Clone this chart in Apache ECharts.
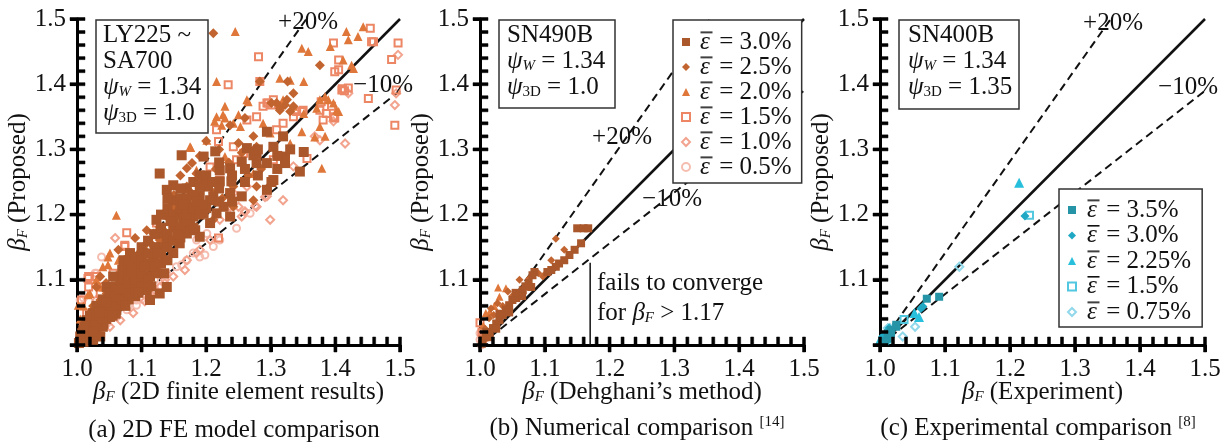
<!DOCTYPE html>
<html><head><meta charset="utf-8">
<script src="https://cdn.jsdelivr.net/npm/echarts@6/dist/echarts.min.js"></script>
<style>html,body{margin:0;padding:0;background:#fff;overflow:hidden}#c{width:1226px;height:442px}#m{position:absolute;left:-5000px;top:0;width:1226px;height:442px}</style>
</head><body><div id="c"></div><div id="m"></div>
<script>
// ---------- data ----------
// (a) 2D FE model comparison : [beta_F FE, beta_F proposed]
const fe30 = [[1.128,1.263],[1.162,1.291],[1.196,1.289],[1.214,1.297],[1.237,1.271],[1.221,1.268],[1.221,1.251],[1.203,1.243],[1.211,1.228],[1.239,1.251],[1.237,1.233],[1.278,1.294],[1.304,1.304],[1.278,1.279],[1.294,1.279],[1.304,1.253],[1.322,1.279],[1.322,1.289],[1.345,1.266],[1.351,1.296],[1.319,1.32],[1.294,1.327],[1.294,1.238],[1.273,1.291],[1.263,1.302],[1.149,1.245],[1.139,1.238],[1.149,1.222],[1.159,1.202],[1.149,1.181],[1.170,1.212],[1.180,1.197],[1.183,1.176],[1.190,1.166],[1.170,1.171],[1.159,1.156],[1.149,1.141],[1.139,1.161],[1.128,1.171],[1.123,1.192],[1.196,1.202],[1.206,1.222],[1.216,1.202],[1.227,1.212],[1.237,1.197],[1.206,1.187],[1.103,1.141],[1.108,1.120],[1.092,1.125],[1.087,1.105],[1.077,1.120],[1.067,1.095],[1.098,1.095],[1.113,1.105],[1.108,1.084],[1.087,1.079],[1.067,1.079],[1.051,1.069],[1.036,1.059],[1.025,1.049],[1.015,1.038],[1.010,1.023],[1.005,1.013],[1.046,1.089],[1.056,1.105],[1.072,1.130],[1.082,1.141],[1.020,1.018],[1.030,1.023],[1.041,1.033],[1.051,1.043],[1.061,1.054],[1.072,1.064],[1.036,1.013],[1.015,1.008],[1.025,1.008],[1.113,1.069],[1.128,1.079],[1.139,1.089],[1.123,1.110],[1.301,1.25],[1.255,1.228],[1.255,1.281],[1.276,1.296],[1.045,1.04],[1.055,1.062],[1.065,1.07],[1.075,1.085],[1.085,1.09],[1.095,1.11],[1.1,1.1],[1.09,1.075],[1.08,1.07],[1.06,1.048],[1.04,1.028],[1.03,1.035],[1.02,1.03],[1.01,1.005],[1.003,1.003],[1.008,1.018],[1.118,1.13],[1.13,1.15],[1.14,1.2],[1.16,1.225],[1.17,1.24],[1.18,1.25],[1.19,1.23],[1.175,1.185],[1.165,1.19],
  [1.01,1.01],[1.01,1.02],[1.02,1.02],[1.02,1.035],[1.02,1.045],[1.03,1.03],[1.03,1.045],[1.03,1.06],[1.04,1.04],[1.04,1.055],[1.04,1.07],[1.05,1.05],[1.05,1.06],[1.05,1.08],[1.06,1.06],[1.06,1.075],[1.06,1.09],[1.07,1.07],[1.07,1.1],[1.07,1.115],[1.08,1.08],[1.08,1.095],[1.08,1.11],[1.08,1.13],[1.09,1.085],[1.09,1.1],[1.09,1.115],[1.09,1.135],[1.1,1.09],[1.1,1.11],[1.1,1.13],[1.1,1.15],[1.11,1.1],[1.11,1.125],[1.11,1.14],[1.11,1.16],[1.12,1.12],[1.12,1.15],[1.12,1.17],[1.13,1.125],[1.13,1.14],[1.13,1.18],[1.13,1.2],[1.14,1.13],[1.14,1.15],[1.14,1.17],[1.14,1.21],[1.14,1.225],[1.15,1.16],[1.15,1.19],[1.15,1.2],[1.16,1.165],[1.16,1.18],[1.16,1.21],[1.16,1.24],[1.17,1.19],[1.17,1.2],[1.17,1.225],[1.18,1.18],[1.18,1.21],[1.18,1.23],[1.19,1.2],[1.19,1.245],[1.19,1.26],[1.2,1.21],[1.2,1.25],[1.2,1.26],[1.22,1.22],[1.22,1.24],[1.22,1.28],[1.24,1.22],[1.24,1.26],[1.26,1.25],[1.26,1.27],[1.28,1.26],[1.28,1.3],[1.31,1.27],[1.31,1.29],[1.33,1.3],
  [1.005,1.005],[1.012,1.028],[1.025,1.02],[1.035,1.05],[1.045,1.065],[1.055,1.045],[1.065,1.085],[1.075,1.06],[1.085,1.115],[1.095,1.08],[1.105,1.12],[1.115,1.09],[1.125,1.14],[1.135,1.11],[1.145,1.19],[1.155,1.17],[1.165,1.215],[1.185,1.22],[1.195,1.215],[1.21,1.25]];
const fe25 = [[1.211,1.478],[1.376,1.429],[1.335,1.386],[1.326,1.404],[1.314,1.36],[1.309,1.371],[1.335,1.366],[1.325,1.376],[1.260,1.348],[1.237,1.337],[1.273,1.320],[1.278,1.304],[1.178,1.279],[1.185,1.263],[1.170,1.271],[1.139,1.197],[1.128,1.181],[1.118,1.171],[1.108,1.176],[1.090,1.164],[1.064,1.146],[1.030,1.089],[1.036,1.105],[1.278,1.243],[1.294,1.240],[1.242,1.243],[1.211,1.233],[1.170,1.243],[1.190,1.222],[1.149,1.212],[1.128,1.161],[1.103,1.151],[1.082,1.120],[1.061,1.105],[1.046,1.079],[1.036,1.069],[1.020,1.049],[1.010,1.033],[1.242,1.212],[1.273,1.222],[1.211,1.192],[1.2,1.313],[1.283,1.404],[1.301,1.371],[1.322,1.368],[1.33,1.358],[1.314,1.363],[1.22,1.3],[1.25,1.31],[1.19,1.29],[1.16,1.26],[1.15,1.23],[1.07,1.09],[1.055,1.075],[1.09,1.1],[1.1,1.125],[1.12,1.14],[1.03,1.05],[1.015,1.025],[1.005,1.012],[1.025,1.06],[1.045,1.095],[1.075,1.13],[1.095,1.14],[1.115,1.155],[1.135,1.175],[1.155,1.215],[1.175,1.235],[1.195,1.25],[1.215,1.27],[1.235,1.28],[1.255,1.295],[1.265,1.26],[1.285,1.27],[1.225,1.225],[1.185,1.205],[1.165,1.18]];
const fe20 = [[1.245,1.481],[1.417,1.481],[1.443,1.488],[1.435,1.473],[1.420,1.468],[1.348,1.455],[1.358,1.450],[1.392,1.458],[1.412,1.437],[1.425,1.429],[1.216,1.404],[1.314,1.409],[1.330,1.406],[1.351,1.404],[1.263,1.376],[1.229,1.366],[1.216,1.350],[1.229,1.348],[1.213,1.343],[1.253,1.335],[1.242,1.340],[1.288,1.340],[1.319,1.376],[1.335,1.366],[1.351,1.355],[1.376,1.376],[1.397,1.371],[1.402,1.360],[1.376,1.335],[1.384,1.320],[1.330,1.309],[1.379,1.271],[1.299,1.325],[1.175,1.304],[1.061,1.199],[1.051,1.141],[1.020,1.079],[1.036,1.089],[1.201,1.314],[1.185,1.268],[1.273,1.263],[1.229,1.289],[1.265,1.373],[1.384,1.381],[1.389,1.376],[1.371,1.363],[1.428,1.424],[1.226,1.353],[1.25,1.353],[1.224,1.337],[1.176,1.303],[1.405,1.358],[1.348,1.327],[1.368,1.319],[1.04,1.12],[1.03,1.1],[1.01,1.06],[1.005,1.04],[1.048,1.135],[1.048,1.123],[1.064,1.130],[1.017,1.077],[1.002,1.061]];
const fe15 = [[1.281,1.442],[1.234,1.399],[1.397,1.463],[1.405,1.437],[1.405,1.422],[1.399,1.419],[1.454,1.486],[1.459,1.465],[1.497,1.463],[1.487,1.438],[1.451,1.378],[1.492,1.337],[1.410,1.391],[1.420,1.394],[1.283,1.404],[1.294,1.371],[1.304,1.376],[1.288,1.366],[1.278,1.350],[1.263,1.345],[1.216,1.330],[1.219,1.312],[1.206,1.273],[1.219,1.164],[1.123,1.187],[1.074,1.151],[1.030,1.105],[1.018,1.089],[1.018,1.105],[1.007,1.069],[1.356,1.286],[1.376,1.360],[1.386,1.355],[1.397,1.350],[1.335,1.350],[1.350,1.360],[1.309,1.330],[1.319,1.340],[1.247,1.284],[1.258,1.294],[1.190,1.258],[1.170,1.222],[1.154,1.202],[1.242,1.304],[1.087,1.125],[1.056,1.110],[1.041,1.089],[1.036,1.079],[1.015,1.049],[1.010,1.033],[1.020,1.038],[1.304,1.284],[1.221,1.253],[1.296,1.371],[1.301,1.368],[1.378,1.373],[1.394,1.366],[1.399,1.348],[1.381,1.345],[1.348,1.358],[1.34,1.358],[1.494,1.391],[1.411,1.393],[1.414,1.39],[1.456,1.465],[1.077,1.172],[1.074,1.153],[1.017,1.102]];
const fe10 = [[1.497,1.445],[1.494,1.386],[1.492,1.368],[1.420,1.386],[1.397,1.343],[1.368,1.320],[1.415,1.309],[1.319,1.222],[1.299,1.192],[1.294,1.228],[1.278,1.212],[1.260,1.205],[1.250,1.212],[1.242,1.233],[1.263,1.243],[1.221,1.192],[1.237,1.212],[1.185,1.141],[1.167,1.115],[1.136,1.095],[1.105,1.067],[1.059,1.164],[1.030,1.069],[1.087,1.049],[1.067,1.038],[1.051,1.028],[1.036,1.018],[1.113,1.079],[1.128,1.089],[1.149,1.105],[1.170,1.130],[1.190,1.146],[1.206,1.161],[1.335,1.274],[1.376,1.314],[1.291,1.227],[1.276,1.213],[1.26,1.204],[1.255,1.197],[1.02,1.012],[1.01,1.008],[1.04,1.05],[1.025,1.04],[1.136,1.1]];
const fe05 = [[1.247,1.179],[1.198,1.138],[1.190,1.135],[1.162,1.123],[1.118,1.082],[1.092,1.069],[1.077,1.054],[1.061,1.043],[1.046,1.033],[1.036,1.026],[1.025,1.018],[1.015,1.013],[1.007,1.008],[1.038,1.135],[1.030,1.110],[1.010,1.072],[1.139,1.110],[1.154,1.120],[1.170,1.130],[1.180,1.141],[1.108,1.095],[1.098,1.084],[1.221,1.161],[1.211,1.151],[1.268,1.202],[1.139,1.130],[1.087,1.089],[1.067,1.069],[1.056,1.059],[1.020,1.028],[1.201,1.171],[1.185,1.161],[1.13,1.09],[1.12,1.1],[1.1,1.07],[1.08,1.06],[1.05,1.04],[1.04,1.03],[1.003,1.002],[1.012,1.005],[1.121,1.084],[1.092,1.061],[1.028,1.11],[1.005,1.069]];
// (b) Numerical comparison : [beta_F Dehghani, beta_F proposed]
const dg30 = [[1.150,1.179],[1.160,1.179],[1.167,1.179],[1.156,1.156],[1.146,1.146],[1.138,1.138],[1.130,1.130],[1.122,1.125],[1.117,1.120],[1.110,1.115],[1.104,1.112],[1.084,1.112],[1.081,1.107],[1.079,1.089],[1.066,1.084],[1.061,1.079],[1.056,1.072],[1.050,1.069],[1.045,1.061],[1.040,1.054],[1.035,1.046],[1.030,1.038],[1.025,1.033],[1.020,1.026],[1.014,1.018],[1.009,1.013],[1.004,1.008],[1.07,1.09],[1.065,1.075],[1.045,1.05],[1.025,1.025],[1.015,1.012],[1.003,1.002],[1.01,1.02],[1.03,1.048],[1.055,1.08],[1.075,1.095]];
const dg25 = [[1.117,1.163],[1.061,1.100],[1.076,1.102],[1.043,1.082],[1.027,1.064],[1.017,1.056],[1.097,1.105],[1.102,1.110],[1.130,1.146],[1.110,1.130],[1.014,1.041],[1.021,1.046],[1.05,1.075],[1.035,1.06],[1.09,1.11],[1.008,1.025]];
const dg20 = [[1.028,1.088],[1.040,1.087],[1.030,1.074],[1.015,1.051],[1.009,1.049],[1.022,1.06],[1.005,1.03]];
const dg15 = [[1.0,1.034],[1.003,1.02],[1.006,1.012]];
const dg10 = [[1.007,1.010],[1.004,1.015]];
const dg05 = [[1.0,1.008],[1.004,1.003],[1.0,1.018],[1.002,1.0]];
// (c) Experimental comparison : [beta_F experiment, beta_F proposed]
const ex35 = [[1.091,1.074],[1.072,1.071],[1.025,1.028],[1.017,1.018],[1.012,1.010],[1.012,1.018],[1.017,1.023],[1.025,1.031],[1.008,1.006]];
const ex30 = [[1.223,1.198],[1.066,1.059],[1.014,1.026],[1.004,1.013],[1.063,1.056]];
const ex225 = [[1.214,1.249],[1.060,1.043],[1.053,1.049],[1.004,1.013],[1.007,1.015],[1.0,1.008],[1.01,1.01]];
const ex15 = [[1.230,1.199],[1.037,1.039]];
const ex075 = [[1.122,1.120],[1.054,1.028],[1.035,1.013],[1.012,1.026],[1.015,1.026]];
// guide lines
const lineEqual = [[1.0,1.0],[1.5,1.5]];
const linePlus20 = [[1.0,1.0],[1.355,1.5]];
const lineMinus10 = [[1.0,1.0],[1.5,1.39]];
const lineConverge = [[1.17,1.0],[1.17,1.126]];
// legend labels and ticks
const labelsAB = ['3.0%','2.5%','2.0%','1.5%','1.0%','0.5%'];
const labelsC = ['3.5%','3.0%','2.25%','1.5%','0.75%'];
const majorTicks = [1.0,1.1,1.2,1.3,1.4,1.5];
const minorTicks = [1.02,1.04,1.06,1.08,1.12,1.14,1.16,1.18,1.22,1.24,1.26,1.28,1.32,1.34,1.36,1.38,1.42,1.44,1.46,1.48];

// ---------- styles ----------
const F = '"Liberation Serif","Times New Roman",serif';
const INK = '#111';
const colAB = ['#a9572b','#c2642f','#e0773a','#ec8664','#f2a48f','#f5bdb0'];
const colC = ['#2494a6','#1fa8c4','#27bfdc','#52c8e0','#90d8ea'];

const ovl = document.createElement('canvas');
ovl.width = 13; ovl.height = 25;
(function(){const g = ovl.getContext('2d'); g.fillStyle = INK; g.fillRect(0.5, 2, 12, 1.6);})();

function richC(){return {
  n:{fontFamily:F,fontSize:25,color:INK,lineHeight:26},
  i:{fontFamily:F,fontSize:25,fontStyle:'italic',color:INK,lineHeight:26},
  si:{fontFamily:F,fontSize:15,fontStyle:'italic',color:INK,lineHeight:10,verticalAlign:'bottom'}
};}
function richG(){return {
  n:{fontFamily:F,fontSize:25,fill:INK,lineHeight:26},
  i:{fontFamily:F,fontSize:25,fontStyle:'italic',fill:INK,lineHeight:26},
  si:{fontFamily:F,fontSize:15,fontStyle:'italic',fill:INK,lineHeight:10,verticalAlign:'bottom'},
  sn:{fontFamily:F,fontSize:15,fill:INK,lineHeight:10,verticalAlign:'bottom'},
  sup:{fontFamily:F,fontSize:15,fill:INK,lineHeight:12,verticalAlign:'top'}
};}

const grids = [
  {left:77, top:19, width:323, height:326},
  {left:480, top:19, width:324, height:326},
  {left:880, top:19, width:325, height:326}
];
const xNames = ['{i|β}{si|F}{n| (2D finite element results)}','{i|β}{si|F}{n| (Dehghani’s method)}','{i|β}{si|F}{n| (Experiment)}'];
const shapes = [
  {symbol:'rect',hollow:false},{symbol:'diamond',hollow:false},{symbol:'triangle',hollow:false},
  {symbol:'rect',hollow:true},{symbol:'diamond',hollow:true},{symbol:'circle',hollow:true}
];
const abNames = labelsAB.map((_,j)=>'ab'+j);
const cNames = labelsC.map((_,j)=>'c'+j);
const aData = [fe30,fe25,fe20,fe15,fe10,fe05];
const bData = [dg30,dg25,dg20,dg15,dg10,dg05];
const cData = [ex35,ex30,ex225,ex15,ex075];
const aSize = [10,10,9,7,8,7];
const bSize = [8,8,8,7,8,7];
const cSize = [8,9,10,7,8];

function scat(name,data,k,shape,color,size,z){
  return {type:'scatter',name,data,xAxisIndex:k,yAxisIndex:k,symbol:shape.symbol,symbolSize:size,z,
    itemStyle: shape.hollow?{color:'rgba(255,255,255,0)',borderColor:color,borderWidth:2,opacity:1}:{color:color,opacity:1},
    emphasis:{disabled:true},silent:true,animation:false};
}
function line(data,k,dashed,width){
  return {type:'line',data,xAxisIndex:k,yAxisIndex:k,showSymbol:false,symbol:'none',z:1,silent:true,animation:false,
    lineStyle:{color:'#111',width:width,type:dashed?[8,5]:'solid'}};
}
function legendRich(){return {
  e:{fontFamily:F,fontSize:25,fontStyle:'italic',color:INK,lineHeight:25,width:13,height:25,backgroundColor:{image:ovl}},
  t:{fontFamily:F,fontSize:25,color:INK,lineHeight:25}
};}
function legendFmt(name){
  const isAB = name.startsWith('ab');
  const j = +name.slice(isAB?2:1);
  const lab = isAB?labelsAB[j]:labelsC[j];
  return '{e|ε}{t| = '+lab+'}';
}
function txt(x,y,text,align,va){
  return {type:'text',x,y,z:100,silent:true,style:{text,align:align||'left',verticalAlign:va||'top',textAlign:align||'left',textVerticalAlign:va||'top',font:'25px '+F,fill:INK,rich:richG()}};
}
function box(x,y,w,h){
  return {type:'rect',z:99,silent:true,shape:{x,y,width:w,height:h},style:{fill:'#fff',stroke:'#333',lineWidth:1.5}};
}

function buildOption(tickEls){
  const xAxis = [], yAxis = [];
  grids.forEach((g,k)=>{
    xAxis.push({gridIndex:k,type:'value',min:1,max:1.5,interval:0.1,position:'bottom',
      axisLine:{show:true,onZero:false,lineStyle:{color:'#000',width:3}},
      axisTick:{show:true,inside:false,length:7,lineStyle:{color:'#000',width:3}},
      axisLabel:{fontFamily:F,fontSize:25,color:INK,margin:12,formatter:v=>v.toFixed(1)},
      splitLine:{show:false},
      name:xNames[k],nameLocation:'middle',nameGap:34,nameMoveOverlap:false,
      nameTextStyle:{fontFamily:F,fontSize:25,color:INK,rich:richC()}});
    yAxis.push({gridIndex:k,type:'value',min:1,max:1.5,interval:0.1,position:'left',
      axisLine:{show:true,onZero:false,lineStyle:{color:'#000',width:3}},
      axisTick:{show:true,inside:false,length:7,lineStyle:{color:'#000',width:3}},
      axisLabel:{fontFamily:F,fontSize:25,color:INK,margin:11,formatter:v=>v<1.05?'':v.toFixed(1)},
      splitLine:{show:false},
      name:'{i|β}{si|F}{n| (Proposed)}',nameLocation:'middle',nameGap:46,nameRotate:90,nameMoveOverlap:false,
      nameTextStyle:{fontFamily:F,fontSize:25,color:INK,rich:richC()}});
  });
  const series = [];
  [0,1,2].forEach(k=>{
    series.push(line(lineEqual,k,false,2.5));
    series.push(line(linePlus20,k,true,2));
    series.push(line(lineMinus10,k,true,2));
  });
  series.push(line(lineConverge,1,false,1.5));
  aData.forEach((d,j)=>series.push(scat(abNames[j],d,0,shapes[j],colAB[j],aSize[j],8-j)));
  bData.forEach((d,j)=>series.push(scat(abNames[j],d,1,shapes[j],colAB[j],bSize[j],8-j)));
  cData.forEach((d,j)=>series.push(scat(cNames[j],d,2,shapes[j],colC[j],cSize[j],8-j)));
  const legend = [
    {data:abNames,left:673,top:20,orient:'vertical',backgroundColor:'#fff',borderColor:'#333',borderWidth:1.5,
     padding:[9.5,10,3.5,8],itemGap:0,itemWidth:8,itemHeight:8,selectedMode:false,formatter:legendFmt,
     textStyle:{fontFamily:F,fontSize:25,color:INK,padding:[0,0,0,5],rich:legendRich()}},
    {data:cNames,left:1059,top:189,orient:'vertical',backgroundColor:'#fff',borderColor:'#333',borderWidth:1.5,
     padding:[8.5,11,2.5,8],itemGap:0.5,itemWidth:8,itemHeight:8,selectedMode:false,formatter:legendFmt,
     textStyle:{fontFamily:F,fontSize:25,color:INK,padding:[0,0,0,6],rich:legendRich()}}
  ];
  const graphic = tickEls.concat([
    box(96,20,112,113), txt(103,22,'{n|LY225 ~}\n{n|SA700}\n{i|ψ}{si|W}{n| = 1.34}\n{i|ψ}{sn|3D}{n| = 1.0}'),
    box(499,20,116,88), txt(507,22,'{n|SN490B}\n{i|ψ}{si|W}{n| = 1.34}\n{i|ψ}{sn|3D}{n| = 1.0}'),
    box(899,20,120,89), txt(908,22,'{n|SN400B}\n{i|ψ}{si|W}{n| = 1.34}\n{i|ψ}{sn|3D}{n| = 1.35}'),
    txt(308,22,'{n|+20%}','center','middle'), txt(383,85,'{n|−10%}','center','middle'),
    txt(622,137,'{n|+20%}','center','middle'), txt(672,199,'{n|−10%}','center','middle'),
    txt(1113,23,'{n|+20%}','center','middle'), txt(1188,87,'{n|−10%}','center','middle'),
    txt(597,283,'{n|fails to converge}','left','middle'),
    txt(597,313,'{n|for }{i|β}{si|F}{n| > 1.17}','left','middle'),
    txt(234,430,'{n|(a) 2D FE model comparison}','center','middle'),
    txt(637,428,'{n|(b) Numerical comparison }{sup|[14]}','center','middle'),
    txt(1038,428,'{n|(c) Experimental comparison }{sup|[8]}','center','middle')
  ]);
  return {animation:false,backgroundColor:'#fff',grid:grids,xAxis,yAxis,series,legend,graphic};
}

// 1) measure tick positions with the library's own scales on an off-screen chart of the same size
let measured = null;
try {
  measured = echarts.init(document.getElementById('m'),null,{renderer:'canvas',width:1226,height:442});
  measured.setOption(buildOption([]));
} catch(e) { measured = null; }
function toPx(k,pt){
  let p = null;
  if (measured) { try { p = measured.convertToPixel({xAxisIndex:k,yAxisIndex:k},pt); } catch(e) { p = null; } }
  if (!p || !isFinite(p[0]) || !isFinite(p[1]) || p[0] < 0 || p[0] > 1226 || p[1] < 0 || p[1] > 442) {
    const g = grids[k];
    p = [g.left + (pt[0]-1)/0.5*g.width, g.top + g.height - (pt[1]-1)/0.5*g.height];
  }
  return p;
}
const tickEls = [];
[0,1,2].forEach(k=>{
  majorTicks.concat(minorTicks).forEach(v=>{
    const major = majorTicks.indexOf(v) >= 0;
    const out = major?7:0;
    const px = toPx(k,[v,1.0]);
    const py = toPx(k,[1.0,v]);
    tickEls.push({type:'rect',z:98,silent:true,shape:{x:px[0]-1.5,y:px[1]-8,width:3,height:8+out},style:{fill:'#000',stroke:'#000',lineWidth:0.5}});
    tickEls.push({type:'rect',z:98,silent:true,shape:{x:py[0]-out,y:py[1]-1.5,width:8+out,height:3},style:{fill:'#000',stroke:'#000',lineWidth:0.5}});
  });
});
try { if (measured) measured.dispose(); } catch(e) {}

// 2) render the visible chart once, with everything in a single setOption
const chart = echarts.init(document.getElementById('c'),null,{renderer:'canvas'});
chart.setOption(buildOption(tickEls));
</script></body></html>
